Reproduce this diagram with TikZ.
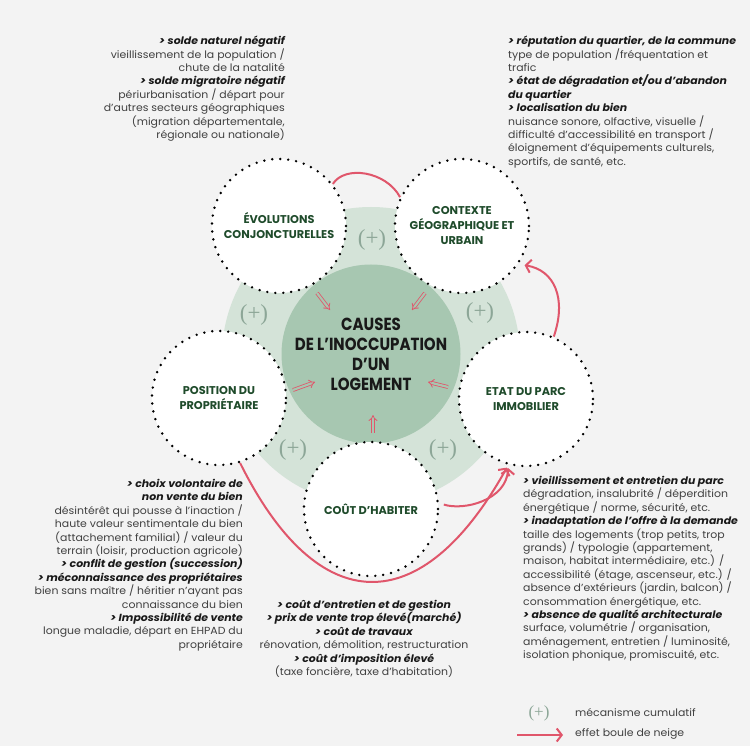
\documentclass[tikz,border=0pt]{standalone}
\usepackage{fontspec}
\setmainfont{Poppins}
\newfontfamily\serifpm{Liberation Serif}
\newfontfamily\condensed[FakeStretch=0.86]{Poppins}
\newfontfamily\bodyfont[FakeStretch=1.06]{Poppins}
\usetikzlibrary{arrows.meta,calc}
\definecolor{bg}{HTML}{F3F3F3}
\definecolor{ringc}{HTML}{D4E3D8}
\definecolor{corec}{HTML}{A7C7B1}
\definecolor{dkgreen}{HTML}{1F4B2B}
\definecolor{snow}{HTML}{E0566B}
\definecolor{plusc}{HTML}{8CA697}
\definecolor{bodyc}{HTML}{404040}
\newcommand\mkhead[1]{{\color{black!90}\bfseries\itshape #1}}
\begin{document}
\begin{tikzpicture}[x=1pt,y=-1pt,
 cause/.style={circle, minimum size=134pt, inner sep=0pt, fill=white, draw=black, line width=2.7pt, dash pattern=on 0pt off 8pt, line cap=round, align=center, text=dkgreen, font=\fontsize{11.3}{15}\selectfont\bfseries},
 desc/.style={inner sep=0pt, text=bodyc, font=\bodyfont\fontsize{10.3}{13.4}\selectfont},
 plusmark/.style={text=plusc, font=\serifpm\fontsize{23}{23}\selectfont, inner sep=0pt},
 snowball/.style={draw=snow, line width=2pt, -{Straight Barb[length=5pt,width=13pt]}},
 snowline/.style={draw=snow, line width=2pt},
 feed/.style={draw=snow, line width=0.8pt, double=corec, double distance=2.2pt, -{Implies}},
]
\fill[bg] (0,0) rectangle (750,746);
\useasboundingbox (0,0) rectangle (750,746);
\fill[ringc] (371,356) circle[radius=149pt];
\node[circle, fill=corec, minimum size=179pt, inner sep=0pt, align=center, text=black!90, font=\condensed\bfseries\fontsize{17.5}{20}\selectfont] (core) at (371,354) {CAUSES\\DE L’INOCCUPATION\\D’UN\\LOGEMENT};

\node[cause] (evo) at (279,226) {ÉVOLUTIONS\\CONJONCTURELLES};
\node[cause] (ctx) at (462,226) {CONTEXTE\\GÉOGRAPHIQUE ET\\URBAIN};
\node[cause] (pos) at (219,398) {POSITION DU\\PROPRIÉTAIRE};
\node[cause] (etat) at (526,399) {ETAT DU PARC\\IMMOBILIER};
\node[cause] (cout) at (371,509) {COÛT D’HABITER};

\node[plusmark] (p1) at (372,240) {(+)};
\node[plusmark] (p2) at (254,315) {(+)};
\node[plusmark] (p3) at (480,313) {(+)};
\node[plusmark] (p4) at (293,450) {(+)};
\node[plusmark] (p5) at (443,450) {(+)};

\coordinate (f1a) at (317,293); \coordinate (f1b) at (330,310);
\coordinate (f2a) at (425,293); \coordinate (f2b) at (412,310);
\coordinate (f3a) at (293,390); \coordinate (f3b) at (315,382);
\coordinate (f4a) at (448,387); \coordinate (f4b) at (428,382);
\coordinate (f5a) at (373,433); \coordinate (f5b) at (373,415);
\foreach \i in {1,...,5}{\draw[feed] (f\i a) -- (f\i b);}

\draw[snowline] (evo.38) .. controls +(12,-19) and +(-14,-26) .. (ctx.155);
\draw[snowball, shorten >=6pt] (etat.66) .. controls +(13,-38) and +(36,6) .. (ctx.-34);
\draw[snowball, shorten <=5pt, shorten >=3pt] (cout.5) .. controls +(25,8) and +(-2,35) .. (etat.-105);
\draw[snowball, shorten >=3pt] (pos.-72) .. controls +(78,157) and +(-87,156) .. (etat.-105);

\node[desc, anchor=north east, align=right] (tl) at (285,36) {\mkhead{> solde naturel négatif}\\vieillissement de la population /\\chute de la natalité\\\mkhead{> solde migratoire négatif}\\périurbanisation / départ pour\\d’autres secteurs géographiques\\(migration départementale,\\régionale ou nationale)};

\node[desc, anchor=north west, align=left] (tr) at (508,36) {\mkhead{> réputation du quartier, de la commune}\\type de population /fréquentation et\\trafic\\\mkhead{> état de dégradation et/ou d’abandon}\\\mkhead{du quartier}\\\mkhead{> localisation du bien}\\nuisance sonore, olfactive, visuelle /\\difficulté d’accessibilité en transport /\\éloignement d’équipements culturels,\\sportifs, de santé, etc.};

\node[desc, anchor=north east, align=right] (bl) at (243,479) {\mkhead{> choix volontaire de}\\\mkhead{non vente du bien}\\désintérêt qui pousse à l’inaction /\\haute valeur sentimentale du bien\\(attachement familial) / valeur du\\terrain (loisir, production agricole)\\\mkhead{> conflit de gestion (succession)}\\\mkhead{> méconnaissance des propriétaires}\\bien sans maître / héritier n’ayant pas\\connaissance du bien\\\mkhead{> Impossibilité de vente}\\longue maladie, départ en EHPAD du\\propriétaire};

\node[desc, anchor=north west, align=left] (br) at (523,476) {\mkhead{> vieillissement et entretien du parc}\\dégradation, insalubrité / déperdition\\énergétique / norme, sécurité, etc.\\\mkhead{> inadaptation de l’offre à la demande}\\taille des logements (trop petits, trop\\grands) / typologie (appartement,\\maison, habitat intermédiaire, etc.) /\\accessibilité (étage, ascenseur, etc.) /\\absence d’extérieurs (jardin, balcon) /\\consommation énergétique, etc.\\\mkhead{> absence de qualité architecturale}\\surface, volumétrie / organisation,\\aménagement, entretien / luminosité,\\isolation phonique, promiscuité, etc.};

\node[desc, anchor=north, align=center] (bc) at (364,600) {\mkhead{> coût d’entretien et de gestion}\\\mkhead{> prix de vente trop élevé(marché)}\\\mkhead{> coût de travaux}\\rénovation, démolition, restructuration\\\mkhead{> coût d’imposition élevé}\\(taxe foncière, taxe d’habitation)};

\node[plusmark, font=\serifpm\fontsize{17}{17}\selectfont] (lp) at (539,713) {(+)};
\node[desc, anchor=west] (lt1) at (575,713) {mécanisme cumulatif};
\coordinate (la) at (517,735); \coordinate (lb) at (563,735);
\draw[snowball] (la) -- (lb);
\node[desc, anchor=west] (lt2) at (575,734) {effet boule de neige};
\end{tikzpicture}
\end{document}
